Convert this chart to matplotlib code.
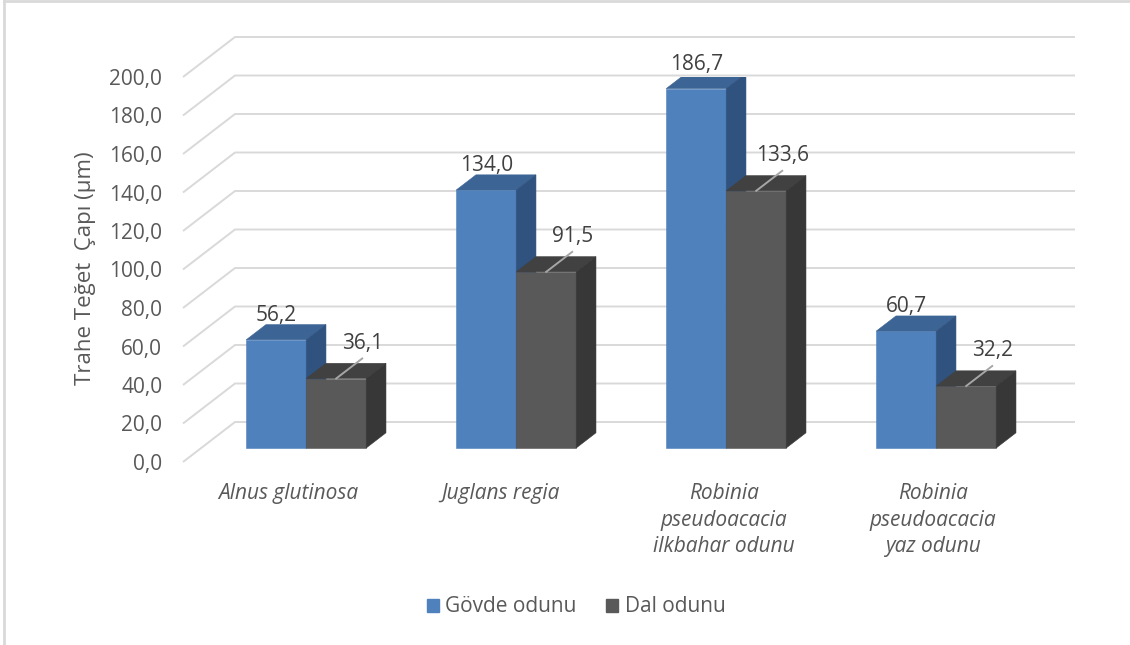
import matplotlib
matplotlib.use("Agg")
import matplotlib.pyplot as plt
from matplotlib.patches import Polygon, Patch
from matplotlib.lines import Line2D

categories = ["Alnus glutinosa", "Juglans regia",
              "Robinia\npseudoacacia\nilkbahar odunu",
              "Robinia\npseudoacacia\nyaz odunu"]
series_names = ["Gövde odunu", "Dal odunu"]
govde = [56.2, 134.0, 186.7, 60.7]
dal = [36.1, 91.5, 133.6, 32.2]
y_ticks = [0, 20, 40, 60, 80, 100, 120, 140, 160, 180, 200]

plt.rcParams['font.family'] = ['Open Sans', 'DejaVu Sans']

W, H = 1130, 645
fig = plt.figure(figsize=(W / 100, H / 100), dpi=100)
# front plane of the 3d box
ax = fig.add_axes([183 / W, 1 - 462 / H, 840 / W, 385 / H])
ax.set_xlim(-0.5, 3.5)
ax.set_ylim(0, 200)
ax.set_facecolor('none')
for s in ax.spines.values():
    s.set_visible(False)

# oblique depth: full depth = 52 px right, 40 px up
DX = 52 / 210
DY = 40 / (385 / 200)
d0, d1 = 0.35, 0.73   # bar front / back depth
dd = d1 - d0
w = 60 / 210

grid_c = '#d9d9d9'
for v in y_ticks:
    ax.plot([-0.5, -0.5 + DX, 3.5 + DX], [v, v + DY, v + DY], color=grid_c,
            lw=1.4, clip_on=False, zorder=1, solid_capstyle='butt')

text_c = '#595959'
lab_c = '#404040'

def fmt(v):
    return f"{v:.1f}".replace('.', ',')

def draw_series(vals, offset, front, top, side, z):
    xs = [i + offset + d0 * DX for i in range(len(vals))]
    bars = ax.bar(xs, vals, width=w, bottom=d0 * DY, align='edge', color=front,
                  edgecolor=front, linewidth=0.4, zorder=z)
    for b in bars:
        x0, y0 = b.get_x(), b.get_y()
        bw, bh = b.get_width(), b.get_height()
        yt = y0 + bh
        ax.add_patch(Polygon([(x0, yt), (x0 + bw, yt), (x0 + bw + dd * DX, yt + dd * DY),
                              (x0 + dd * DX, yt + dd * DY)], closed=True, facecolor=top,
                             edgecolor=top, lw=0.4, zorder=z))
        ax.add_patch(Polygon([(x0 + bw, y0), (x0 + bw, yt), (x0 + bw + dd * DX, yt + dd * DY),
                              (x0 + bw + dd * DX, y0 + dd * DY)], closed=True, facecolor=side,
                             edgecolor=side, lw=0.4, zorder=z))
    return bars

b1 = draw_series(govde, -w, '#4f81bd', '#3c6494', '#30527f', 2)
b2 = draw_series(dal, 0, '#595959', '#414141', '#373737', 3)

for b, v in zip(b1, govde):
    ax.text(b.get_x() + b.get_width() / 2, b.get_y() + v + dd * DY + 2, fmt(v),
            ha='center', va='baseline', fontsize=15, color=lab_c, zorder=5)

for b, v in zip(b2, dal):
    xs = b.get_x() + b.get_width() / 2
    ys = b.get_y() + v
    xe, ye = xs + 0.5 * DX, ys + 0.5 * DY
    ax.plot([xs, xe], [ys, ye], color='#a6a6a6', lw=1.4, zorder=4)
    ax.text(xe, ye + 5, fmt(v), ha='center', va='baseline', fontsize=15,
            color=lab_c, zorder=5)

ax.set_xticks([])
ax.set_yticks(y_ticks, labels=[fmt(v) for v in y_ticks])
ax.tick_params(axis='y', length=0, pad=15, labelsize=15, labelcolor=text_c)

label_shift = [0, 0.01, 0.076, 0.071]
for i, cat in enumerate(categories):
    ax.text(i + label_shift[i], -11, cat, ha='center', va='top', fontsize=15,
            style='italic', color=text_c, linespacing=1.34)

fig.text(85 / W, 1 - 268 / H, "Trahe Teğet  Çapı (µm)", rotation=90, ha='center',
         va='center', fontsize=16, color=text_c)

handles = [Patch(color='#4f81bd'), Patch(color='#595959')]
fig.legend(handles, series_names, loc='center', bbox_to_anchor=(576 / W, 1 - 607 / H),
           ncol=2, frameon=False, handlelength=0.6, handleheight=0.6,
           handletextpad=0.3, columnspacing=1.4, fontsize=15, labelcolor=text_c)

# chart border (top and left only visible)
fig.add_artist(Line2D([4 / W, 1], [1 - 1 / H, 1 - 1 / H], color=grid_c, lw=2))
fig.add_artist(Line2D([4 / W, 4 / W], [0, 1 - 1 / H], color=grid_c, lw=2))

fig.savefig("out.png", dpi=100)
